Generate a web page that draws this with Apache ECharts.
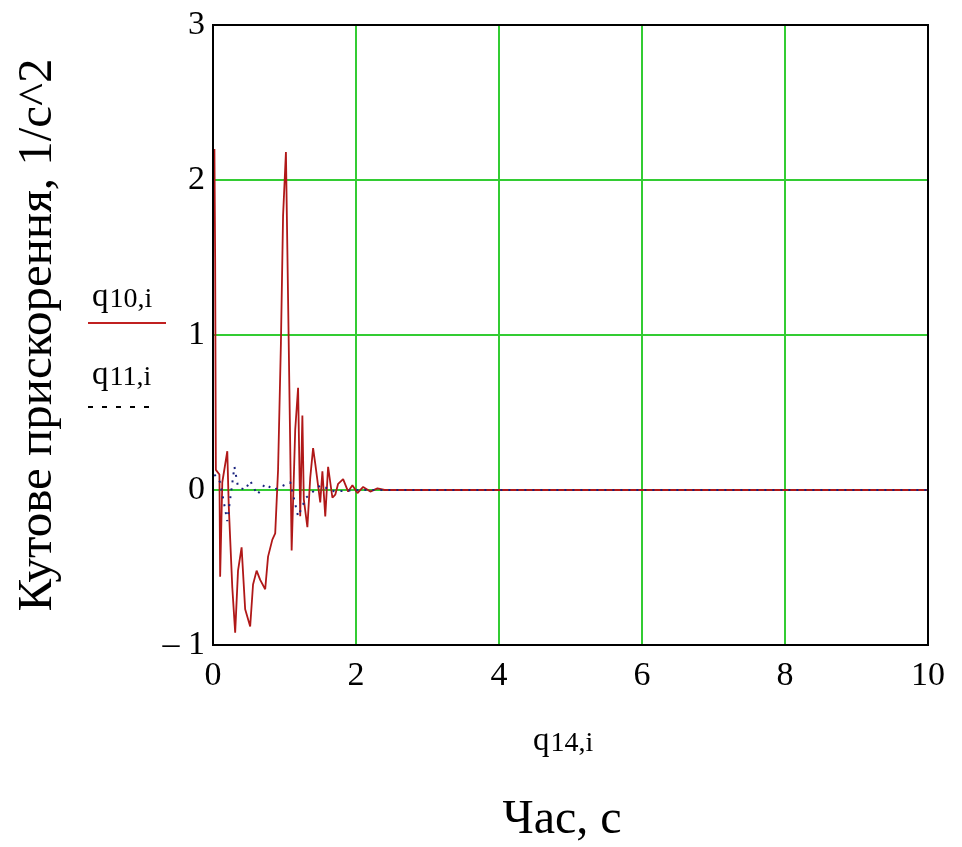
<!DOCTYPE html>
<html>
<head>
<meta charset="utf-8">
<script src="https://cdn.jsdelivr.net/npm/echarts@6/dist/echarts.min.js"></script>
<style>
  html, body { margin: 0; padding: 0; background: #fff; }
  #chart { width: 962px; height: 847px; }
</style>
</head>
<body>
<div id="chart"></div>
<script>
// дані кривих (час, с ; прискорення, 1/с^2)
var xTicks = [0, 2, 4, 6, 8, 10];
var yTicks = [-1, 0, 1, 2, 3];

var q10 = [
    [0.02, 2.2], [0.03, 1.5], [0.04, 0.13], [0.09, 0.1], [0.1, -0.56], [0.13, 0.05],
    [0.2, 0.25], [0.22, -0.1], [0.27, -0.63], [0.31, -0.92], [0.35, -0.52],
    [0.4, -0.37], [0.45, -0.77], [0.52, -0.88], [0.56, -0.61], [0.61, -0.52],
    [0.66, -0.58], [0.73, -0.64], [0.77, -0.43], [0.83, -0.32], [0.87, -0.28],
    [0.91, 0.13], [0.95, 0.95], [0.98, 1.77], [1.02, 2.18], [1.04, 1.55],
    [1.08, 0.28], [1.1, -0.39], [1.15, 0.39], [1.19, 0.66], [1.22, -0.17],
    [1.25, 0.48], [1.27, -0.06], [1.32, -0.24], [1.36, 0.08], [1.4, 0.27],
    [1.43, 0.17], [1.5, -0.08], [1.53, 0.12], [1.57, -0.17], [1.61, 0.15],
    [1.67, -0.05], [1.71, -0.03], [1.75, 0.04], [1.82, 0.07], [1.89, -0.01],
    [1.95, 0.03], [2.02, -0.02], [2.1, 0.02], [2.2, -0.01], [2.3, 0.01],
    [2.4, 0], [10, 0]
];
var q11 = [
    [0.02, 0.1], [0.1, 0.05], [0.2, -0.2], [0.3, 0.15], [0.35, 0.02], [0.45, 0],
    [0.52, 0.06], [0.62, -0.03], [0.73, 0.04], [0.85, 0], [1.08, 0.05],
    [1.19, -0.17], [1.3, -0.05], [1.5, 0.03], [1.7, -0.01], [2.0, 0], [10, 0]
];

var serif = '"Liberation Serif", "DejaVu Serif", serif';
var gridGreen = '#33cc33';

function subLabel(q, sub) {
    return {
        rich: {
            q: { fontFamily: serif, fontSize: 33, fill: '#000' },
            s: { fontFamily: serif, fontSize: 28, fill: '#000', padding: [6, 0, 0, 1] }
        },
        text: '{q|' + q + '}{s|' + sub + '}'
    };
}

var chart = echarts.init(document.getElementById('chart'));
var option = {
    animation: false,
    grid: {
        left: 213, top: 25, width: 715, height: 620,
        show: true, borderColor: '#000', borderWidth: 2, backgroundColor: '#fff'
    },
    xAxis: {
        type: 'value', min: 0, max: 10, interval: 2,
        axisLine: { show: false }, axisTick: { show: false },
        splitLine: { lineStyle: { color: gridGreen, width: 2 } },
        axisLabel: {
            color: '#000', fontFamily: serif, fontSize: 34, margin: 14,
            formatter: function (v) { return xTicks.indexOf(v) >= 0 ? String(v) : ''; }
        }
    },
    yAxis: {
        type: 'value', min: -1, max: 3, interval: 1,
        axisLine: { show: false }, axisTick: { show: false },
        splitLine: { lineStyle: { color: gridGreen, width: 2 } },
        axisLabel: {
            color: '#000', fontFamily: serif, fontSize: 34, margin: 8,
            formatter: function (v) {
                if (yTicks.indexOf(v) < 0) return '';
                return v < 0 ? '\u2013 ' + Math.abs(v) : String(v);
            }
        }
    },
    series: [
        {
            name: 'q10', type: 'line', data: q10, showSymbol: false, z: 3,
            lineStyle: { color: '#b01818', width: 1.8 }
        },
        {
            name: 'q11', type: 'line', data: q11, showSymbol: false, z: 4,
            lineStyle: { color: '#1a237e', width: 2, type: [2, 6] }
        }
    ],
    graphic: [
        // рамка графіка
        {
            type: 'rect', z: 100, silent: true,
            shape: { x: 213, y: 25, width: 715, height: 620 },
            style: { fill: 'none', stroke: '#000', lineWidth: 2 }
        },
        {
            type: 'text', x: 38, y: 335, rotation: Math.PI / 2,
            style: {
                text: 'Кутове прискорення, 1/с^2', fill: '#000',
                font: '49px ' + serif, textAlign: 'center', textVerticalAlign: 'middle'
            }
        },
        { type: 'text', x: 92, y: 280, style: subLabel('q', '10,i') },
        { type: 'line', shape: { x1: 88, y1: 323, x2: 166, y2: 323 }, style: { stroke: '#c02020', lineWidth: 2 } },
        { type: 'text', x: 92, y: 358, style: subLabel('q', '11,i') },
        { type: 'line', shape: { x1: 88, y1: 407, x2: 152, y2: 407 }, style: { stroke: '#000', lineWidth: 2, lineDash: [5, 9] } },
        { type: 'text', x: 533, y: 724, style: subLabel('q', '14,i') },
        {
            type: 'text', x: 562, y: 820,
            style: {
                text: 'Час, с', fill: '#000', font: '48px ' + serif,
                textAlign: 'center', textVerticalAlign: 'middle'
            }
        }
    ]
};
chart.setOption(option);
</script>
</body>
</html>
